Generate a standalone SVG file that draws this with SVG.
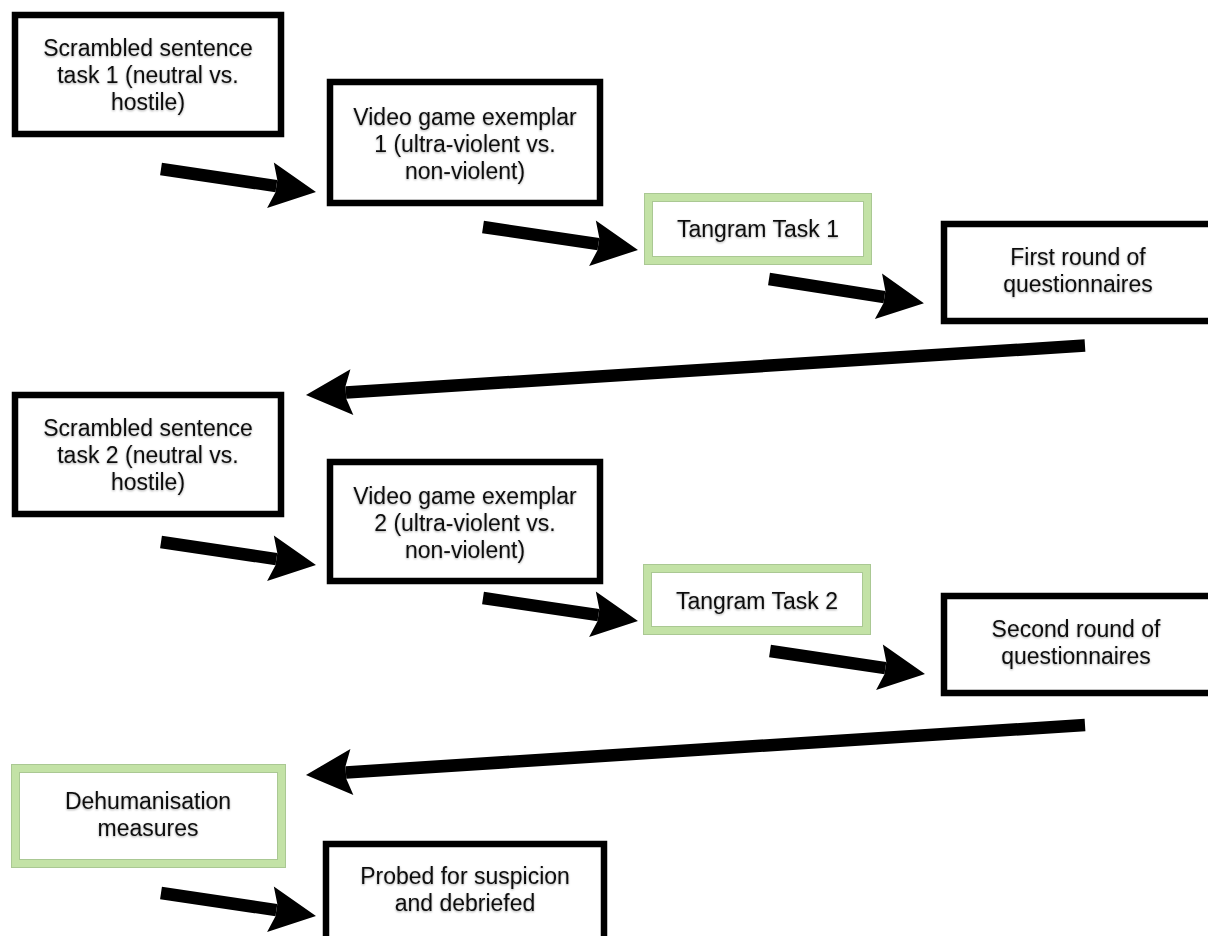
<svg xmlns="http://www.w3.org/2000/svg" width="1208" height="936" viewBox="0 0 1208 936">
  <defs>
    <style>
      .box { fill: #ffffff; stroke: #000000; stroke-width: 6.5; }
      .gbox { fill: #ffffff; stroke: #c3e2a6; stroke-width: 7; }
      .gedge { fill: none; stroke: #aac893; stroke-width: 1; }
      .lbl { font-family: "Liberation Sans", Arial, sans-serif; font-size: 23px; fill: #111111; text-anchor: middle; filter: url(#tshadow); }
      .conn { stroke: #000000; stroke-width: 12.5; fill: none; stroke-linecap: butt; marker-end: url(#ah); }
    </style>
    <filter id="tshadow" x="-10%" y="-30%" width="120%" height="160%">
      <feDropShadow dx="0" dy="1" stdDeviation="1.3" flood-color="#000000" flood-opacity="0.35"/>
    </filter>
    <marker id="ah" markerUnits="userSpaceOnUse" viewBox="-2 -25 52 50" markerWidth="52" markerHeight="50" refX="6" refY="0" orient="auto">
      <path d="M0,-23 L46,0 L0,23 L6,6.25 L6,-6.25 Z" fill="#000000"/>
    </marker>
  </defs>
  <rect width="1208" height="936" fill="#ffffff"/>

  <g id="connectors">
    <line class="conn" x1="161" y1="169" x2="276.4" y2="186.1"/>
    <line class="conn" x1="483" y1="227" x2="598.4" y2="244.1"/>
    <line class="conn" x1="769" y1="279" x2="884.4" y2="297.1"/>
    <line class="conn" x1="1085" y1="345.5" x2="345.9" y2="392.5"/>
    <line class="conn" x1="161" y1="542" x2="276.4" y2="559.1"/>
    <line class="conn" x1="483" y1="598" x2="598.4" y2="615.1"/>
    <line class="conn" x1="770" y1="651" x2="885.4" y2="668.1"/>
    <line class="conn" x1="1085" y1="725" x2="345.9" y2="772.4"/>
    <line class="conn" x1="161" y1="893" x2="276.4" y2="910.1"/>
  </g>

  <g id="scrambled1">
    <rect class="box" x="15" y="15" width="266" height="119"/>
    <text class="lbl" x="148" y="56">Scrambled sentence</text>
    <text class="lbl" x="148" y="83">task 1 (neutral vs.</text>
    <text class="lbl" x="148" y="110">hostile)</text>
  </g>

  <g id="video1">
    <rect class="box" x="330" y="82" width="270" height="121"/>
    <text class="lbl" x="465" y="125">Video game exemplar</text>
    <text class="lbl" x="465" y="152">1 (ultra-violent vs.</text>
    <text class="lbl" x="465" y="179">non-violent)</text>
  </g>

  <g id="tangram1">
    <rect class="gbox" x="648.5" y="197.5" width="219" height="63"/>
    <rect class="gedge" x="644.5" y="193.5" width="227" height="71"/>
    <rect class="gedge" x="652.5" y="201.5" width="211" height="55"/>
    <text class="lbl" x="758" y="237">Tangram Task 1</text>
  </g>

  <g id="questionnaires1">
    <rect class="box" x="944" y="224" width="268" height="97"/>
    <text class="lbl" x="1078" y="265">First round of</text>
    <text class="lbl" x="1078" y="292">questionnaires</text>
  </g>

  <g id="scrambled2">
    <rect class="box" x="15" y="395" width="266" height="119"/>
    <text class="lbl" x="148" y="436">Scrambled sentence</text>
    <text class="lbl" x="148" y="463">task 2 (neutral vs.</text>
    <text class="lbl" x="148" y="490">hostile)</text>
  </g>

  <g id="video2">
    <rect class="box" x="330" y="462" width="270" height="119"/>
    <text class="lbl" x="465" y="504">Video game exemplar</text>
    <text class="lbl" x="465" y="531">2 (ultra-violent vs.</text>
    <text class="lbl" x="465" y="558">non-violent)</text>
  </g>

  <g id="tangram2">
    <rect class="gbox" x="647.5" y="568.5" width="219" height="62"/>
    <rect class="gedge" x="643.5" y="564.5" width="227" height="70"/>
    <rect class="gedge" x="651.5" y="572.5" width="211" height="54"/>
    <text class="lbl" x="757" y="609">Tangram Task 2</text>
  </g>

  <g id="questionnaires2">
    <rect class="box" x="944" y="596" width="268" height="97"/>
    <text class="lbl" x="1076" y="637">Second round of</text>
    <text class="lbl" x="1076" y="664">questionnaires</text>
  </g>

  <g id="dehumanisation">
    <rect class="gbox" x="15.5" y="768.5" width="266" height="95"/>
    <rect class="gedge" x="11.5" y="764.5" width="274" height="103"/>
    <rect class="gedge" x="19.5" y="772.5" width="258" height="87"/>
    <text class="lbl" x="148" y="809">Dehumanisation</text>
    <text class="lbl" x="148" y="836">measures</text>
  </g>

  <g id="debriefed">
    <rect class="box" x="326" y="844" width="278" height="120"/>
    <text class="lbl" x="465" y="884">Probed for suspicion</text>
    <text class="lbl" x="465" y="911">and debriefed</text>
  </g>
</svg>
